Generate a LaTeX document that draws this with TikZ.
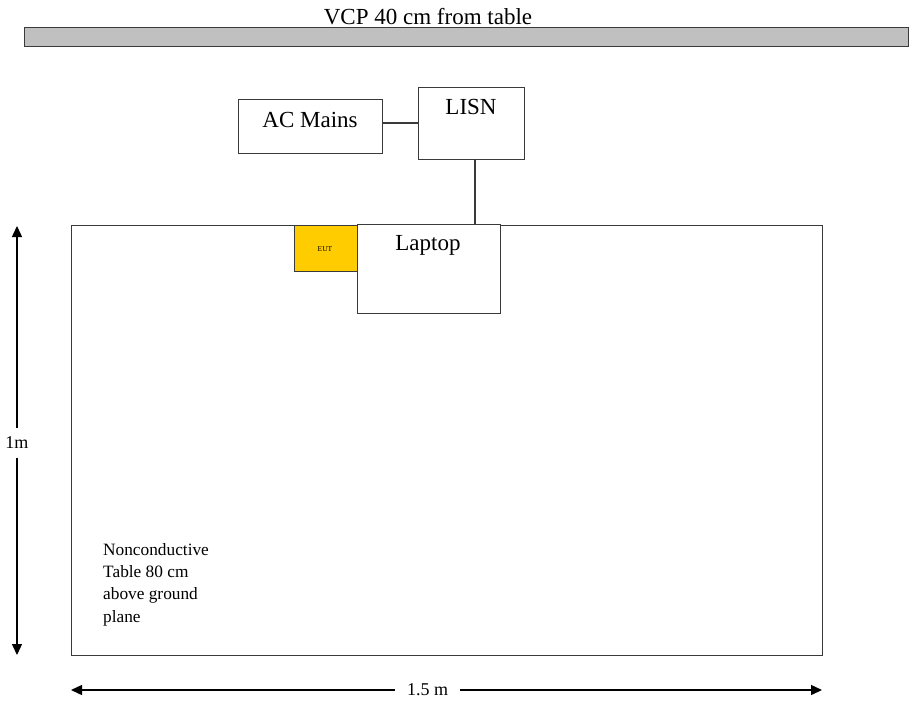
\documentclass[tikz,border=0pt]{standalone}
\usepackage{fontspec}
\setmainfont{Liberation Serif}
\usetikzlibrary{arrows.meta}
\definecolor{linegray}{HTML}{3A3A3A}
\definecolor{vcpgray}{HTML}{C0C0C0}
\definecolor{eutyellow}{HTML}{FFCC00}
\tikzset{
  box/.style={draw=linegray, line width=1.4pt, fill=white, rectangle, inner sep=0pt, anchor=north west},
  lbl/.style={font=\fontsize{23}{26}\selectfont, inner sep=0pt},
  dimline/.style={draw=black, line width=1.4pt, {Triangle[length=11pt,width=10pt]}-{Triangle[length=11pt,width=10pt]}},
  dimtext/.style={font=\fontsize{18}{20}\selectfont, fill=white, inner xsep=4pt, inner ysep=4pt},
  wire/.style={draw=linegray, line width=1.4pt}
}
\begin{document}
\begin{tikzpicture}[x=1pt,y=-1pt]
\useasboundingbox (0,0) rectangle (910,704);
% VCP bar
\node[box, fill=vcpgray, minimum width=884pt, minimum height=19pt] (vcp) at (24,27) {};
\node[lbl] (vcptext) at (428,17) {VCP 40 cm from table};
% Table
\node[box, minimum width=751pt, minimum height=430pt] (table) at (71,225) {};
% EUT
\node[box, fill=eutyellow, minimum width=63pt, minimum height=46pt] (eut) at (294,225) {};
\node[font=\fontsize{7.5}{8}\selectfont, inner sep=0pt] (euttext) at (325,249) {EUT};
% Laptop
\node[box, minimum width=143pt, minimum height=89pt] (laptop) at (357,224) {};
\node[lbl] (laptoptext) at (428,245) {Laptop};
% AC Mains
\node[box, minimum width=144pt, minimum height=54pt] (ac) at (238,99) {};
\node[lbl] (actext) at (310,120) {AC Mains};
% LISN
\node[box, minimum width=106pt, minimum height=72pt] (lisn) at (418,87) {};
\node[lbl] (lisntext) at (471,107) {LISN};
% wires
\coordinate (acout) at (382,123);
\draw[wire] (acout) -- (acout -| lisn.west);
\coordinate (lisnout) at (475,159);
\draw[wire] (lisnout) -- (lisnout |- laptop.north);
% Table text
\node[font=\fontsize{17.3}{22.3}\selectfont, align=left, anchor=north west, inner sep=0pt] (tabletext) at (103,543) {Nonconductive\\Table 80 cm\\above ground\\plane};
% 1m dimension
\coordinate (vtop) at (17,226);
\coordinate (vbot) at (17,655);
\draw[dimline] (vtop) -- node[dimtext, pos=0.505, inner ysep=9pt] (vtext) {1m} (vbot);
% 1.5 m dimension
\coordinate (hleft) at (71,690);
\coordinate (hright) at (822,690);
\draw[dimline] (hleft) -- node[dimtext, pos=0.475, inner xsep=12pt] (htext) {1.5 m} (hright);
\end{tikzpicture}
\end{document}
